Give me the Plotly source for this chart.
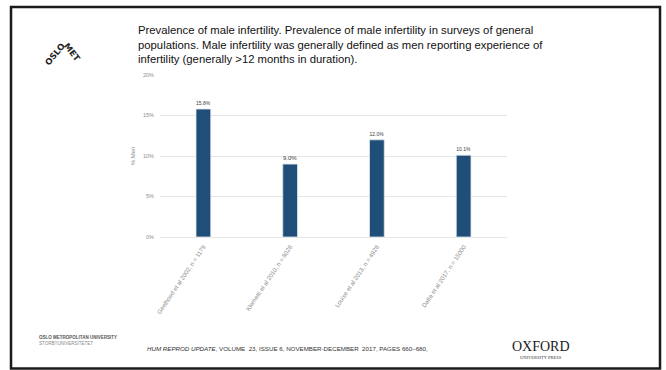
import plotly.graph_objects as go

categories = ["Geelhoed et al 2002, n = 1179", "Klemetti et al 2010, n = 8028",
              "Louise et al 2013, n = 4928", "Datta et al 2017, n = 15000"]
values = [15.8, 9.0, 12.0, 10.1]
value_labels = ["15.8%", "9.0%", "12.0%", "10.1%"]
y_ticks = [0, 5, 10, 15, 20]
y_tick_labels = ["0%", "5%", "10%", "15%", "20%"]

W, H = 666, 370
def px(x): return x / W
def py(y): return 1 - y / H

fig = go.Figure()
fig.add_trace(go.Bar(
    x=categories, y=values, text=value_labels, textposition="outside",
    textfont=dict(size=6, color="#404040", family="Liberation Sans"),
    marker=dict(color="#1F4E79", line=dict(color="#dfe6ee", width=0.8)),
    cliponaxis=False, width=0.17,
))

fig.update_layout(
    width=W, height=H, margin=dict(l=0, r=0, t=0, b=0, autoexpand=False),
    paper_bgcolor="white", plot_bgcolor="white", showlegend=False,
    font=dict(family="Liberation Sans"),
    xaxis=dict(domain=[px(160), px(507)], tickangle=-56, automargin=False,
               tickfont=dict(size=6.1, color="#8c8c8c"),
               showgrid=False, showline=True, linecolor="#e6e6e6", linewidth=1,
               ticks="", ticklabelstandoff=3),
    yaxis=dict(domain=[py(237), py(75)], range=[0, 20], automargin=False,
               tickvals=y_ticks, ticktext=y_tick_labels,
               tickfont=dict(size=5.5, color="#8c8c8c"),
               showgrid=True, gridcolor="#e6e6e6", gridwidth=1,
               zeroline=False, showline=False, ticks="", ticklabelstandoff=5,
               title=dict(text="% Men", font=dict(size=6, color="#8c8c8c"), standoff=6)),
)

# Slide frame
fig.add_shape(type="rect", xref="paper", yref="paper",
              x0=px(11), x1=px(660), y0=py(368.5), y1=py(7),
              line=dict(color="#1a1a1a", width=2.5))

# Title text
fig.add_annotation(xref="paper", yref="paper", x=px(136), y=py(22), xanchor="left", yanchor="top",
                   align="left", showarrow=False,
                   text="Prevalence of male infertility. Prevalence of male infertility in surveys of general<br>"
                        "populations. Male infertility was generally defined as men reporting experience of<br>"
                        "infertility (generally &gt;12 months in duration).",
                   font=dict(size=11.3, color="#111111", family="Liberation Sans"))

# OSLOMET logo
fig.add_annotation(xref="paper", yref="paper", x=px(55), y=py(54), xanchor="center", yanchor="middle",
                   showarrow=False, textangle=-50,
                   text="<b>OSLO</b>", font=dict(size=8.5, color="#222222", family="DejaVu Sans"))
fig.add_annotation(xref="paper", yref="paper", x=px(72), y=py(52), xanchor="center", yanchor="middle",
                   showarrow=False, textangle=52,
                   text="<b>MET</b>", font=dict(size=8.5, color="#222222", family="DejaVu Sans"))

# Footer
fig.add_annotation(xref="paper", yref="paper", x=px(37), y=py(337), xanchor="left", yanchor="middle",
                   showarrow=False,
                   text="<b>OSLO METROPOLITAN UNIVERSITY</b>", font=dict(size=4.5, color="#555555"))
fig.add_annotation(xref="paper", yref="paper", x=px(37), y=py(343), xanchor="left", yanchor="middle",
                   showarrow=False,
                   text="STORBYUNIVERSITETET", font=dict(size=4.5, color="#888888"))
fig.add_annotation(xref="paper", yref="paper", x=px(145), y=py(348), xanchor="left", yanchor="middle",
                   showarrow=False,
                   text="<i>HUM REPROD UPDATE</i>, VOLUME  23, ISSUE 6, NOVEMBER-DECEMBER  2017, PAGES 660–680,",
                   font=dict(size=6.2, color="#333333"))
fig.add_annotation(xref="paper", yref="paper", x=px(541), y=py(346), xanchor="center", yanchor="middle",
                   showarrow=False,
                   text="OXFORD", font=dict(size=14, color="#1a1a1a", family="Liberation Serif"))
fig.add_annotation(xref="paper", yref="paper", x=px(541), y=py(357), xanchor="center", yanchor="middle",
                   showarrow=False,
                   text="UNIVERSITY PRESS", font=dict(size=4.5, color="#333333", family="Liberation Serif"))

fig.write_html("out.html")
